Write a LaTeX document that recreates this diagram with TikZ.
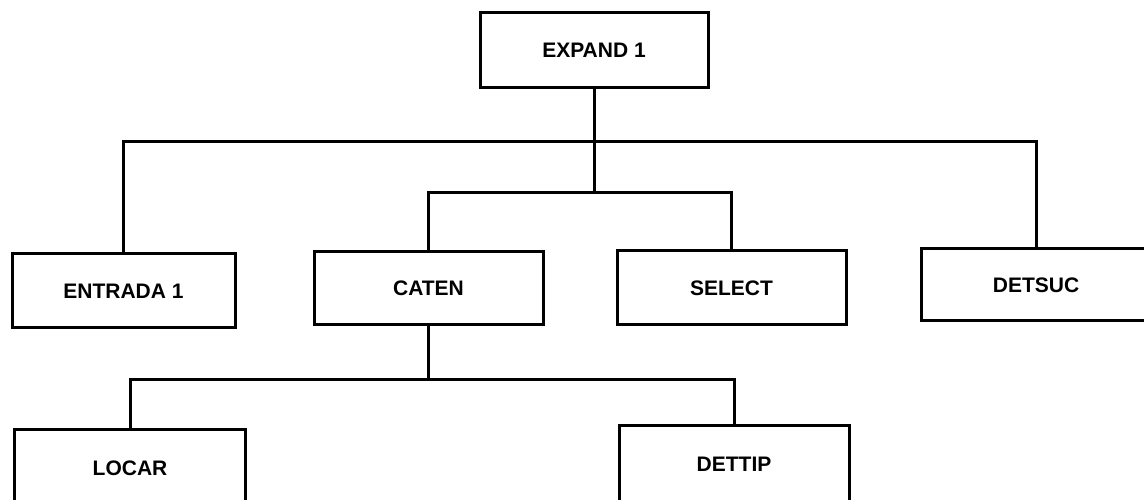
\documentclass[tikz,border=0pt]{standalone}
\usepackage{fontspec}
\setmainfont{Liberation Sans}
\usepackage{tikz}
\tikzset{modbox/.style={draw, line width=3pt, minimum width=229pt, minimum height=74pt, inner sep=0pt, font=\fontsize{21}{25}\selectfont\bfseries}}
\tikzset{conn/.style={line width=3pt}}

\begin{document}
\begin{tikzpicture}[x=10pt, y=10pt]
      \useasboundingbox (0,0) rectangle (114.4,50);
      \node [modbox, minimum width=228pt, minimum height=75pt] (expand) at (59.4, 44.95) {EXPAND 1};
      \node [modbox, minimum width=223pt] (entrada) at (12.35, 20.9) {ENTRADA 1};
      \node [modbox, minimum height=73pt] (caten) at (42.85, 21.15) {CATEN};
      \node [modbox] (select) at (73.15, 21.2) {SELECT};
      \node [modbox, minimum height=72pt] (detsuc) at (103.6, 21.5) {DETSUC};
      \node [modbox, minimum width=231pt, minimum height=76pt] (locar) at (13.0, 3.2) {LOCAR};
      \node [modbox, minimum width=230pt, minimum height=76pt] (dettip) at (73.4, 3.6) {DETTIP};
      \coordinate (bustop) at (59.4, 35.8);
      \coordinate (busmid) at (59.4, 30.7);
      \coordinate (buslow) at (42.85, 12.0);
      \draw [conn] (entrada.north) |- (bustop) -| (detsuc.north);
      \draw [conn] (expand.south) -- (busmid);
      \draw [conn] (caten.north) |- (busmid) -| (select.north);
      \draw [conn] (caten.south) -- (buslow);
      \draw [conn] (locar.north) |- (buslow) -| (dettip.north);
\end{tikzpicture}
\end{document}
